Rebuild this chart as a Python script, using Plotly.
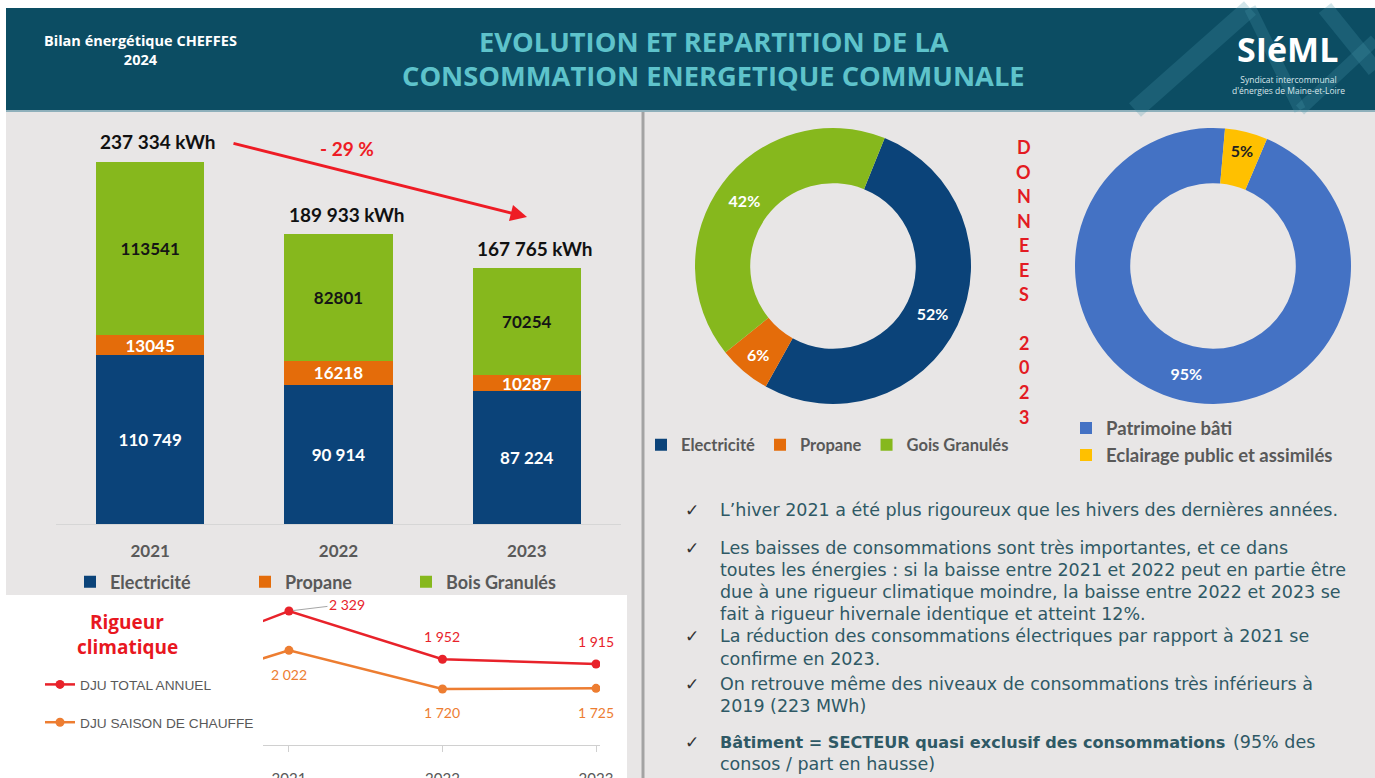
import plotly.graph_objects as go

W, H = 1375, 778


def fx(px):
    return px / W


def fy(py):
    return 1 - py / H


# ---------------- data ----------------
years = ["2021", "2022", "2023"]
elec = [110749, 90914, 87224]
propane = [13045, 16218, 10287]
bois = [113541, 82801, 70254]
totals = [237334, 189933, 167765]

mix_labels = ["Electricité", "Propane", "Gois Granulés"]
mix_values = [87224, 10287, 70254]  # 2023

sector_labels = ["Patrimoine bâti", "Eclairage public et assimilés"]
sector_values = [95, 5]

dju_years = [2020, 2021, 2022, 2023]
dju_total = [1870, 2329, 1952, 1915]
dju_chauffe = [1650, 2022, 1720, 1725]

C_ELEC = "#0b4379"
C_PROP = "#e46c0a"
C_BOIS = "#86b81d"
C_BLUE = "#4472c4"
C_YEL = "#ffc000"
C_RED = "#e8222a"
C_ORG = "#ed7d31"
GRAY = "#595959"
BG = "#e8e6e6"
TEAL = "#0c4d63"

FONT = "Lato"


def sp(v):
    return f"{v:,}".replace(",", " ")


fig = go.Figure()

# ---------------- stacked bars ----------------
bar_specs = [
    ("Electricité", elec, C_ELEC, "white", "%{y:,d}", "legend"),
    ("Propane", propane, C_PROP, "white", "%{y:d}", "legend2"),
    ("Bois Granulés", bois, C_BOIS, "#151515", "%{y:d}", "legend3"),
]
for name, vals, col, tcol, tt, lg in bar_specs:
    fig.add_trace(go.Bar(
        x=years, y=vals, name=name, marker=dict(color=col, line=dict(width=0)),
        texttemplate=tt, textposition="inside", insidetextanchor="middle",
        constraintext="none", textangle=0,
        textfont=dict(family=FONT, size=17, color=tcol, weight="bold"),
        xaxis="x", yaxis="y", legend=lg, showlegend=True, hoverinfo="skip",
    ))

# ---------------- donuts ----------------
fig.add_trace(go.Pie(
    labels=mix_labels, values=mix_values, hole=0.6, sort=False,
    direction="clockwise", rotation=22,
    marker=dict(colors=[C_ELEC, C_PROP, C_BOIS], line=dict(width=0)),
    texttemplate="%{percent:.0%}", textposition="inside",
    insidetextorientation="horizontal",
    textfont=dict(family=FONT, size=16, color="white", weight="bold"),
    domain=dict(x=[fx(695), fx(971)], y=[fy(404), fy(128)]),
    legend="legend4", hoverinfo="skip",
))
fig.add_trace(go.Pie(
    labels=sector_labels, values=sector_values, hole=0.6, sort=False,
    direction="clockwise", rotation=23,
    marker=dict(colors=[C_BLUE, C_YEL], line=dict(width=0)),
    texttemplate="%{percent:.0%}", textposition="inside",
    insidetextorientation="horizontal",
    textfont=dict(family=FONT, size=16, color=["white", "#222222"], weight="bold"),
    domain=dict(x=[fx(1075), fx(1351)], y=[fy(404), fy(128)]),
    legend="legend5", hoverinfo="skip",
))

# ---------------- DJU lines ----------------
fig.add_trace(go.Scatter(
    x=dju_years, y=dju_total, mode="lines+markers", name="DJU TOTAL ANNUEL",
    line=dict(color=C_RED, width=2.5), marker=dict(color=C_RED, size=9),
    xaxis="x2", yaxis="y2", legend="legend6", legendgroup="a", hoverinfo="skip",
))
fig.add_trace(go.Scatter(
    x=dju_years, y=dju_chauffe, mode="lines+markers", name="DJU SAISON DE CHAUFFE",
    line=dict(color=C_ORG, width=2.5), marker=dict(color=C_ORG, size=9),
    xaxis="x2", yaxis="y2", legend="legend6", legendgroup="b", hoverinfo="skip",
))

shapes = []
ann = []


def note(text, px, py, size, color, family="Open Sans", xanchor="center"):
    ann.append(dict(text=text, x=fx(px), y=fy(py), xref="paper", yref="paper", showarrow=False,
                    xanchor=xanchor, yanchor="middle", font=dict(family=family, size=size, color=color)))


# background panels
shapes.append(dict(type="rect", xref="paper", yref="paper", x0=fx(6), x1=1, y0=0, y1=fy(110),
                   fillcolor=BG, line=dict(width=0), layer="below"))
shapes.append(dict(type="rect", xref="paper", yref="paper", x0=fx(6), x1=1, y0=fy(110), y1=fy(8),
                   fillcolor=TEAL, line=dict(width=0), layer="below"))
shapes.append(dict(type="line", xref="paper", yref="paper", x0=fx(6), x1=1, y0=fy(111), y1=fy(111),
                   line=dict(color="#8fb0bb", width=2), layer="below"))
# decorative light strokes in header
for (x0, y0, x1, y1, w) in [(1135, 110, 1250, 8, 18), (1250, 8, 1300, 110, 12),
                            (1325, 8, 1375, 70, 16), (1300, 110, 1375, 40, 12)]:
    shapes.append(dict(type="line", xref="paper", yref="paper", x0=fx(x0), y0=fy(y0), x1=fx(x1), y1=fy(y1),
                       line=dict(color="rgba(70,150,170,0.25)", width=w), layer="below"))
shapes.append(dict(type="rect", xref="paper", yref="paper", x0=0, x1=fx(627), y0=0, y1=fy(595),
                   fillcolor="white", line=dict(width=0), layer="below"))
shapes.append(dict(type="line", xref="paper", yref="paper", x0=fx(643), x1=fx(643), y0=0, y1=fy(112),
                   line=dict(color="#a3a3a3", width=3), layer="below"))

# header text
note("<b>EVOLUTION ET REPARTITION DE LA</b>", 714, 41, 27.3, "#5ec3cb")
note("<b>CONSOMMATION ENERGETIQUE COMMUNALE</b>", 714, 76, 27.3, "#5ec3cb")
note("<b>Bilan énergétique CHEFFES<br>2024</b>", 140, 50, 14.5, "white")
note("<b>SIéML</b>", 1287, 49, 34, "white")
note("Syndicat intercommunal<br>d'énergies de Maine-et-Loire", 1288, 85, 8.5, "#d8e6ea")

# totals above bars
for i, t in enumerate(totals):
    ann.append(dict(text=f"<b>{sp(t)} kWh</b>", x=i, y=t, xref="x", yref="y", yshift=20, xshift=8,
                    xanchor="center", yanchor="middle",
                    showarrow=False, font=dict(family=FONT, size=19, color="#111111")))
# evolution arrow (pixel offsets for the tail)
pct = round((totals[-1] - totals[0]) / totals[0] * 100)
ann.append(dict(text="", x=fx(527), y=fy(217), ax=232 - 527, ay=143 - 217, xref="paper", yref="paper",
                axref="pixel", ayref="pixel", showarrow=True, arrowhead=2, arrowsize=1.1,
                arrowwidth=3, arrowcolor="#ee1c25"))
note(f"<b>- {abs(pct)} %</b>", 347, 148, 19, "#ee1c25", family=FONT)

# DONNEES 2023 vertical
letters = list("DONNEES") + [""] + list("2023")
for i, ch in enumerate(letters):
    if ch:
        note(f"<b>{ch}</b>", 1024, 147 + i * 24.5, 18, "#e31b23", family=FONT)

# Rigueur climatique
note("<b>Rigueur</b>", 127, 622, 19, "#e8171f")
note("<b>climatique</b>", 127, 647, 19, "#e8171f")

# DJU labels
for yr, v in zip(dju_years, dju_total):
    if yr == 2021:
        ann.append(dict(text=sp(v), x=yr, y=v, xref="x2", yref="y2", showarrow=True, arrowhead=0,
                        arrowwidth=1, arrowcolor="#a6a6a6", ax=58, ay=-7, standoff=4,
                        font=dict(family=FONT, size=14, color=C_RED)))
    elif yr > 2021:
        ann.append(dict(text=sp(v), x=yr, y=v, xref="x2", yref="y2", showarrow=False, yshift=23,
                        xanchor="center", yanchor="middle",
                        font=dict(family=FONT, size=14, color=C_RED)))
for yr, v in zip(dju_years, dju_chauffe):
    if yr >= 2021:
        ann.append(dict(text=sp(v), x=yr, y=v, xref="x2", yref="y2", showarrow=False, yshift=-24,
                        xanchor="center", yanchor="middle",
                        font=dict(family=FONT, size=14, color=C_ORG)))

# bullet text
TXT = "#2f5965"
lines = [
    (510, True, "L’hiver 2021 a été plus rigoureux que les hivers des dernières années."),
    (548, True, "Les baisses de consommations sont très importantes, et ce dans"),
    (570, False, "toutes les énergies : si la baisse entre 2021 et 2022 peut en partie être"),
    (592, False, "due à une rigueur climatique moindre, la baisse entre 2022 et 2023 se"),
    (614, False, "fait à rigueur hivernale identique et atteint 12%."),
    (636, True, "La réduction des consommations électriques par rapport à 2021 se"),
    (659, False, "confirme en 2023."),
    (684, True, "On retrouve même des niveaux de consommations très inférieurs à"),
    (706, False, "2019 (223 MWh)"),
    (742, True, None),
    (764, False, "consos / part en hausse)"),
]
for y, chk, t in lines:
    if chk:
        note("✓", 692, y, 17, "#333333", family="DejaVu Sans")
    if t is not None:
        note(t, 718, y, 17.5, TXT, family="DejaVu Sans", xanchor="left")
note("<b>Bâtiment = SECTEUR quasi exclusif des consommations</b>", 718, 742, 16.1, TXT,
     family="DejaVu Sans", xanchor="left")
note("(95% des", 1231, 742, 17.5, TXT, family="DejaVu Sans", xanchor="left")

leg_common = dict(bgcolor="rgba(0,0,0,0)", borderwidth=0, xanchor="left", yanchor="middle")
bar_leg_font = dict(family=FONT, size=18, color=GRAY, weight="bold")

fig.update_layout(
    width=W, height=H, margin=dict(l=0, r=0, t=0, b=0, autoexpand=False),
    paper_bgcolor="white", plot_bgcolor="rgba(0,0,0,0)", showlegend=True,
    separators=". ", barmode="stack", bargap=0.426,
    font=dict(family=FONT),
    xaxis=dict(type="category", range=[-0.5, 2.5], domain=[fx(56), fx(621)], showgrid=False, zeroline=False,
               showline=True, linecolor="#d6d6d6", linewidth=1, ticks="", ticklabelstandoff=12, automargin=False,
               tickfont=dict(family=FONT, size=17, color=GRAY, weight="bold"), fixedrange=True),
    yaxis=dict(domain=[fy(524), fy(128)], range=[0, 237334 * 396 / 362], visible=False, fixedrange=True,
               automargin=False),
    xaxis2=dict(domain=[fx(263), fx(600)], range=[2020.831, 2023.026], anchor="y2", showgrid=False,
                zeroline=False, showline=True, linecolor="#d0d0d0", ticks="outside", ticklen=6,
                tickcolor="#d0d0d0", tickvals=[2021, 2022, 2023], ticktext=["2021", "2022", "2023"],
                ticklabelstandoff=14, automargin=False, tickfont=dict(family=FONT, size=15, color=GRAY)),
    yaxis2=dict(domain=[fy(745), fy(598)], range=[1282, 2431], anchor="x2", visible=False, automargin=False),
    legend=dict(orientation="h", x=fx(70), y=fy(582), font=bar_leg_font, **leg_common),
    legend2=dict(orientation="h", x=fx(245), y=fy(582), font=bar_leg_font, **leg_common),
    legend3=dict(orientation="h", x=fx(406), y=fy(582), font=bar_leg_font, **leg_common),
    legend4=dict(orientation="h", x=fx(641), y=fy(445), font=dict(family=FONT, size=16.5, color=GRAY, weight="bold"),
                 **leg_common),
    legend5=dict(orientation="v", x=fx(1066), y=fy(442), font=dict(family=FONT, size=18.5, color=GRAY, weight="bold"),
                 **leg_common),
    legend6=dict(orientation="v", x=fx(40), y=fy(703.5), font=dict(family="Liberation Sans", size=13.7, color=GRAY),
                 tracegroupgap=17, **leg_common),
    shapes=shapes, annotations=ann,
)

fig.write_html("out.html", config={"displayModeBar": False},
               post_script="document.body.style.margin='0px';document.body.style.overflow='hidden';")
